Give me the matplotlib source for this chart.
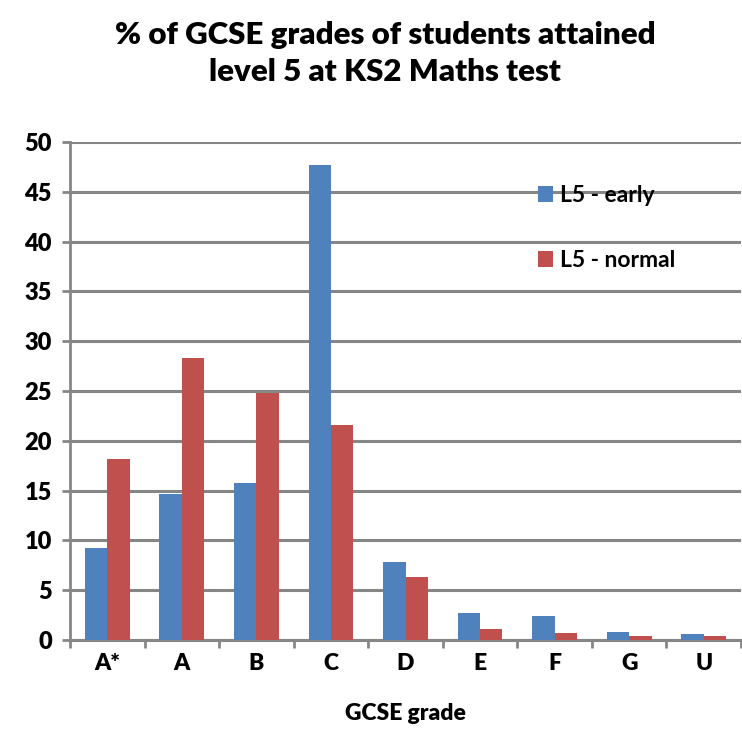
import matplotlib
matplotlib.use("Agg")
import matplotlib.pyplot as plt
import numpy as np

grades = ["A*", "A", "B", "C", "D", "E", "F", "G", "U"]
l5_early = [9.2, 14.7, 15.8, 47.7, 7.8, 2.7, 2.4, 0.8, 0.6]
l5_normal = [18.2, 28.3, 24.8, 21.6, 6.3, 1.1, 0.7, 0.4, 0.4]
series_names = ["L5 - early", "L5 - normal"]

BLUE = "#4F81BD"
RED = "#C0504D"
GRID = "#868686"

plt.rcParams["font.family"] = ["Lato", "DejaVu Sans"]

fig = plt.figure(figsize=(7.42, 7.30), dpi=100)
ax = fig.add_axes([70 / 742, 1 - 640 / 730, 671 / 742, 498 / 730])

x = np.arange(len(grades))
w = 0.30
ax.bar(x - w / 2, l5_early, w, color=BLUE, label=series_names[0], zorder=3)
ax.bar(x + w / 2, l5_normal, w, color=RED, label=series_names[1], zorder=3)

ax.set_xlim(-0.5, len(grades) - 0.5)
ax.set_ylim(0, 50)
ax.set_yticks(np.arange(0, 51, 5))
ax.yaxis.grid(True, color=GRID, linewidth=2.2, zorder=0)
ax.set_axisbelow(True)

for s in ["top", "right"]:
    ax.spines[s].set_visible(False)
ax.spines["left"].set_color(GRID)
ax.spines["left"].set_linewidth(2)
ax.spines["bottom"].set_color(GRID)
ax.spines["bottom"].set_linewidth(2.2)

# category labels centred, ticks at category boundaries
ax.set_xticks(x)
ax.set_xticklabels(grades, fontsize=16.5, fontweight="heavy")
ax.tick_params(axis="x", length=0, pad=9)
ax.set_xticks(np.arange(-0.5, len(grades), 1), minor=True)
ax.tick_params(axis="x", which="minor", length=6, width=2, color=GRID)
ax.tick_params(axis="y", length=6, width=2, color=GRID, labelsize=17, pad=7)
for lab in ax.get_yticklabels():
    lab.set_fontweight("heavy")

ax.set_xlabel("GCSE grade", fontsize=16.5, fontweight="heavy", labelpad=21)

fig.text(0.519, 0.952, "% of GCSE grades of students attained", ha="center",
         va="center", fontsize=22.5, fontweight="heavy")
fig.text(0.519, 0.901, "level 5 at KS2 Maths test", ha="center",
         va="center", fontsize=22.5, fontweight="heavy")

ax.legend(loc="upper left", bbox_to_anchor=(0.667, 0.955), frameon=False,
          prop={"size": 16.5, "weight": "bold"}, handlelength=0.65,
          handleheight=0.7, handletextpad=0.3, labelspacing=1.92)

fig.savefig("out.png", dpi=100)
